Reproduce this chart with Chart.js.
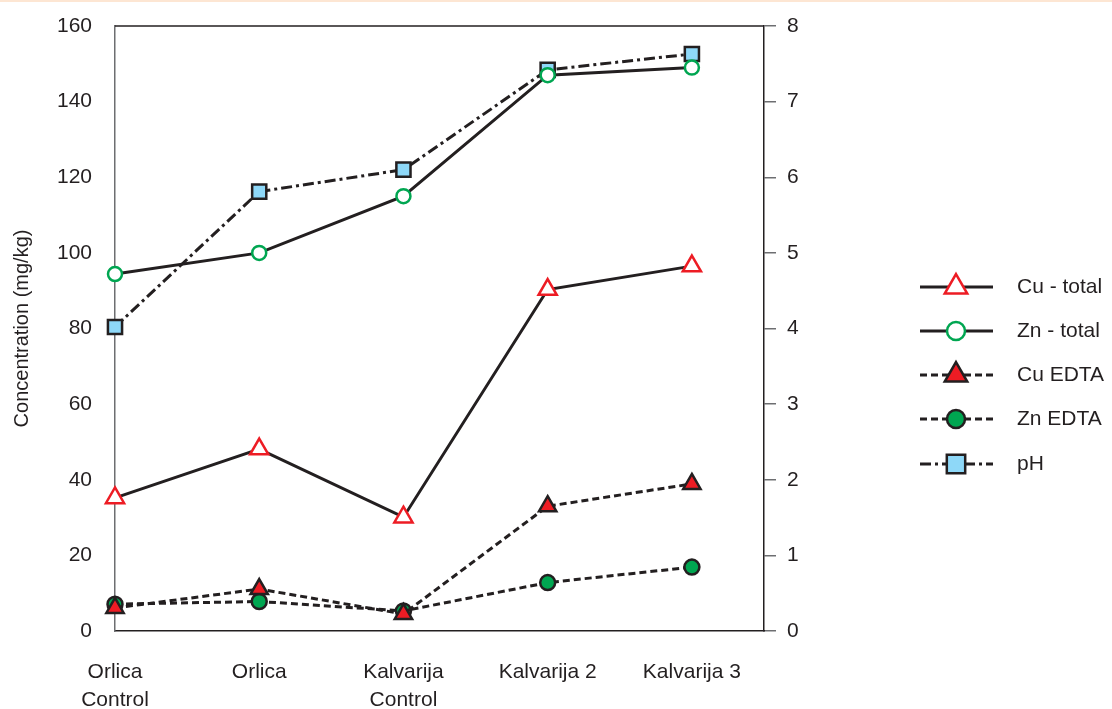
<!DOCTYPE html>
<html>
<head>
<meta charset="utf-8">
<script src="https://cdn.jsdelivr.net/npm/chart.js@4/dist/chart.umd.min.js"></script>
<style>
  html, body { margin: 0; padding: 0; background: #fff; }
  #wrap { position: relative; width: 1112px; height: 709px; }
  #band { position: absolute; left: 0; top: 0; width: 1112px; height: 2px; background: #fde6d3; }
</style>
</head>
<body>
<div id="wrap">
  <canvas id="c" width="1112" height="709"></canvas>
  <div id="band"></div>
</div>
<script>
// Sampling sites along the x axis
const categories = [['Orlica', 'Control'], 'Orlica', ['Kalvarija', 'Control'], 'Kalvarija 2', 'Kalvarija 3'];

// Concentrations (mg/kg)
const cuTotal = [35.2, 48.1, 30.1, 90.3, 96.5];
const znTotal = [94.4, 100.0, 115.0, 147.0, 149.0];
const cuEdta  = [6.1, 11.1, 4.5, 33.0, 38.9];
const znEdta  = [7.1, 7.8, 5.3, 12.8, 16.9];

// Soil pH (right axis)
const pH = [4.02, 5.81, 6.10, 7.42, 7.63];

// Axis ticks
const leftTicks = [0, 20, 40, 60, 80, 100, 120, 140, 160];
const rightTicks = [0, 1, 2, 3, 4, 5, 6, 7, 8];

const INK = '#231f20';
const RED = '#ed1c24';
const GREEN = '#00a651';
const BLUE = '#8ed8f8';
const GREY = '#6d6e71';
const FONT = "'Liberation Sans', Arial, sans-serif";

const toXY = arr => arr.map((v, i) => ({ x: i, y: v }));

const datasets = [
  { label: 'Cu - total', data: toXY(cuTotal), yAxisID: 'y',
    borderColor: INK, borderWidth: 3, borderDash: [],
    pointStyle: 'triangle', pointRadius: 10.5, legendRadius: 13, pointBackgroundColor: '#fff',
    pointBorderColor: RED, pointBorderWidth: 2.5 },
  { label: 'Zn - total', data: toXY(znTotal), yAxisID: 'y',
    borderColor: INK, borderWidth: 3, borderDash: [],
    pointStyle: 'circle', pointRadius: 7, legendRadius: 9, pointBackgroundColor: '#fff',
    pointBorderColor: GREEN, pointBorderWidth: 2.5 },
  { label: 'Cu EDTA', data: toXY(cuEdta), yAxisID: 'y',
    borderColor: INK, borderWidth: 3, borderDash: [7, 4],
    pointStyle: 'triangle', pointRadius: 10, legendRadius: 13, pointBackgroundColor: RED,
    pointBorderColor: INK, pointBorderWidth: 2.5 },
  { label: 'Zn EDTA', data: toXY(znEdta), yAxisID: 'y',
    borderColor: INK, borderWidth: 3, borderDash: [7, 4],
    pointStyle: 'circle', pointRadius: 7.5, legendRadius: 9, pointBackgroundColor: GREEN,
    pointBorderColor: INK, pointBorderWidth: 2.5 },
  { label: 'pH', data: toXY(pH), yAxisID: 'y1',
    borderColor: INK, borderWidth: 3, borderDash: [11, 4, 3, 4],
    pointStyle: 'rect', pointRadius: 10, legendRadius: 13, pointBackgroundColor: BLUE,
    pointBorderColor: INK, pointBorderWidth: 2.5 }
].map(d => Object.assign({ clip: false, tension: 0, fill: false, pointHoverRadius: d.pointRadius }, d));

// Top frame line and the legend on the right
const framePlugin = {
  id: 'frameAndLegend',
  afterDraw(chart) {
    const { ctx, chartArea } = chart;
    ctx.save();
    ctx.strokeStyle = INK;
    ctx.lineWidth = 1.5;
    ctx.beginPath();
    ctx.moveTo(chartArea.left, chartArea.top);
    ctx.lineTo(chartArea.right, chartArea.top);
    ctx.stroke();

    const x0 = 920, x1 = 993, xm = 956, tx = 1017;
    const rowY = [287, 331, 375, 419, 464];
    chart.data.datasets.forEach((ds, i) => {
      const y = rowY[i];
      ctx.setLineDash(ds.borderDash);
      ctx.strokeStyle = ds.borderColor;
      ctx.lineWidth = ds.borderWidth;
      ctx.beginPath();
      ctx.moveTo(x0, y);
      ctx.lineTo(x1, y);
      ctx.stroke();
      ctx.setLineDash([]);
      ctx.fillStyle = ds.pointBackgroundColor;
      ctx.strokeStyle = ds.pointBorderColor;
      ctx.lineWidth = ds.pointBorderWidth;
      Chart.helpers.drawPoint(ctx, { pointStyle: ds.pointStyle, radius: ds.legendRadius, rotation: 0, borderWidth: ds.pointBorderWidth }, xm, y);
      ctx.fillStyle = INK;
      ctx.font = '21px ' + FONT;
      ctx.textBaseline = 'middle';
      ctx.textAlign = 'left';
      ctx.fillText(ds.label, tx, y);
    });
    ctx.restore();
  }
};

new Chart(document.getElementById('c'), {
  type: 'line',
  data: { datasets },
  plugins: [framePlugin],
  options: {
    responsive: false,
    animation: false,
    layout: { padding: { top: 26, left: 0, right: 0, bottom: 0 } },
    plugins: { legend: { display: false }, tooltip: { enabled: false } },
    scales: {
      x: {
        type: 'linear', min: 0, max: 4.5,
        afterBuildTicks: axis => { axis.ticks = categories.map((_, i) => ({ value: i })); },
        afterFit: axis => { axis.height = 78; },
        grid: { display: false, drawTicks: false },
        border: { display: true, color: INK, width: 1.5 },
        ticks: {
          color: INK, padding: 27,
          font: { family: FONT, size: 21, lineHeight: 1.35 },
          maxRotation: 0, autoSkip: false,
          callback: v => categories[v]
        }
      },
      y: {
        position: 'left', min: 0, max: 160,
        afterBuildTicks: axis => { axis.ticks = leftTicks.map(v => ({ value: v })); },
        afterFit: axis => { axis.width = 115; },
        // invisible tick marks keep the labels clear of the axis line
        grid: { display: true, drawOnChartArea: false, drawTicks: true, tickLength: 23, color: 'rgba(0,0,0,0)' },
        border: { display: true, color: GREY, width: 1.5 },
        title: {
          display: true, text: 'Concentration (mg/kg)', color: INK,
          font: { family: FONT, size: 20, lineHeight: 1.2 },
          padding: { top: 10, bottom: 0 }
        },
        ticks: { color: INK, padding: 0, font: { family: FONT, size: 21 } }
      },
      y1: {
        position: 'right', min: 0, max: 8,
        afterBuildTicks: axis => { axis.ticks = rightTicks.map(v => ({ value: v })); },
        afterFit: axis => { axis.width = 348; },
        grid: { display: true, drawOnChartArea: false, drawTicks: true, tickLength: 12, color: GREY, lineWidth: 1.5 },
        border: { display: true, color: INK, width: 1.5 },
        ticks: { color: INK, padding: 11, font: { family: FONT, size: 21 } }
      }
    }
  }
});
</script>
</body>
</html>
